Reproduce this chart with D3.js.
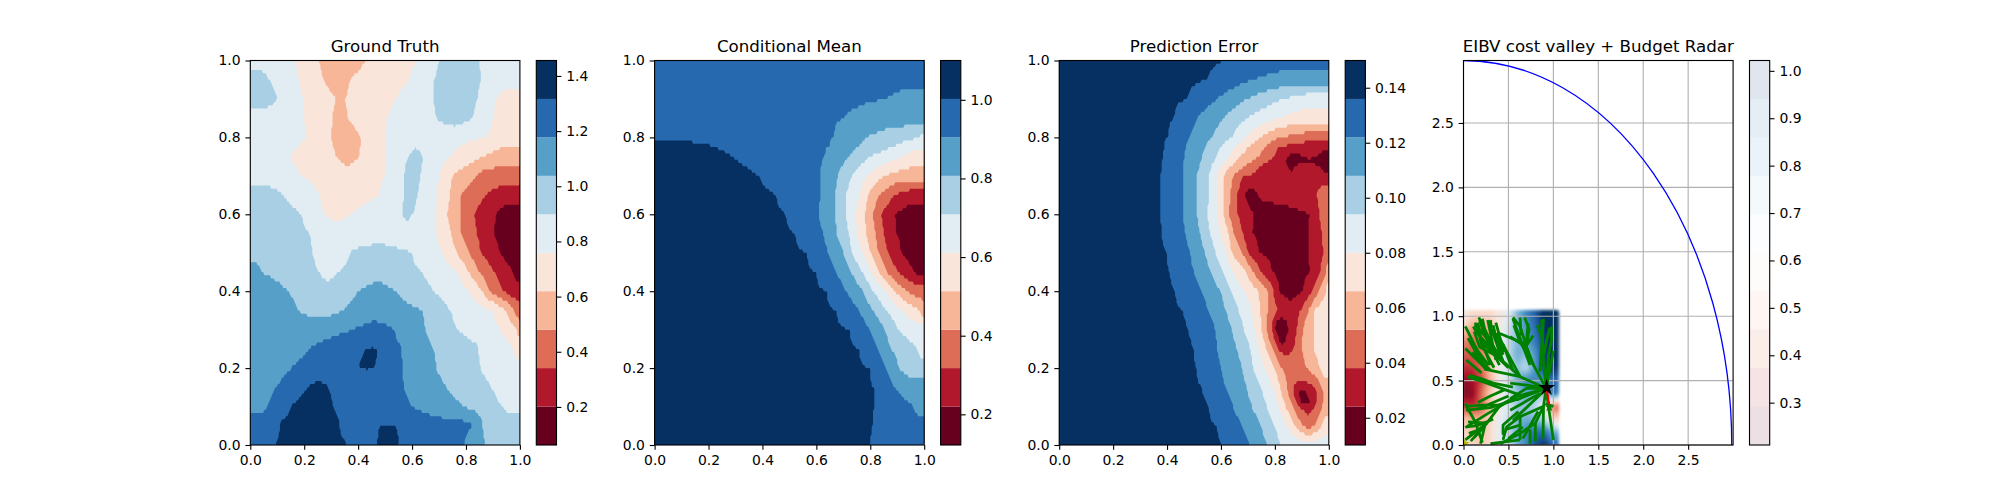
<!DOCTYPE html>
<html>
<head>
<meta charset="utf-8">
<script src="https://cdn.jsdelivr.net/npm/d3@7"></script>
<style>
  html, body { margin: 0; background: #fff; }
  svg text { font-family: "DejaVu Sans", sans-serif; fill: #000; }
</style>
</head>
<body>
<svg id="chart" width="2000" height="500"></svg>
<script>
const titles = ['Ground Truth', 'Conditional Mean', 'Prediction Error', 'EIBV cost valley + Budget Radar'];
const palette = ['#67001f', '#b2182b', '#dd6d56', '#f7b698', '#f9e5da', '#e1edf3', '#a8cfe4', '#569fc9', '#2769af', '#053061'];

// colourbar ranges, ten equal bands between them
const truthRange = [0.062, 1.456];
const meanRange = [0.122, 1.1];
const errorRange = [0.0101, 0.1499];
const costRange = [0.2107, 1.0218];

const truthTicks = [0.2, 0.4, 0.6, 0.8, 1.0, 1.2, 1.4];
const meanTicks = [0.2, 0.4, 0.6, 0.8, 1.0];
const errorTicks = [0.02, 0.04, 0.06, 0.08, 0.10, 0.12, 0.14];
const costTicks = [0.3, 0.4, 0.5, 0.6, 0.7, 0.8, 0.9, 1.0];
const unitTicks = [0, 0.2, 0.4, 0.6, 0.8, 1.0];
const radarTicks = [0, 0.5, 1.0, 1.5, 2.0, 2.5];

// each row: y, then band, x where it ends, next band, ...
const truthRows = [
  [1.00, 5,.17,4,.25,3,.43,4,.62,5,.70,6,.85,5],
  [0.95, 6,.07,5,.18,4,.27,3,.37,4,.59,5,.68,6,.855,5],
  [0.90, 6,.10,5,.195,4,.32,3,.35,4,.54,5,.68,6,.845,5,.91,4],
  [0.85, 5,.20,4,.305,3,.36,4,.505,5,.69,6,.825,5,.90,4],
  [0.80, 5,.21,4,.30,3,.41,4,.50,5,.875,4],
  [0.75, 5,.145,4,.32,3,.405,4,.50,5,.585,6,.64,5,.74,4,.865,3],
  [0.70, 5,.19,4,.50,5,.57,6,.63,5,.70,4,.75,3,.84,2,.90,2],
  [0.65, 6,.12,5,.255,4,.48,5,.57,6,.62,5,.695,4,.74,3,.78,2,.875,1],
  [0.60, 6,.19,5,.27,4,.37,5,.565,6,.60,5,.69,4,.73,3,.78,2,.83,1,.91,0],
  [0.55, 6,.22,5,.69,4,.745,3,.78,2,.84,1,.905,0],
  [0.50, 6,.23,5,.37,6,.60,5,.715,4,.765,3,.81,2,.855,1,.925,0],
  [0.45, 7,.04,6,.255,5,.325,6,.635,5,.77,4,.81,3,.85,2,.905,1,.975,0],
  [0.40, 7,.14,6,.40,7,.54,6,.68,5,.815,4,.86,3,.887,2,.937,1],
  [0.35, 7,.177,6,.345,7,.64,6,.74,5,.90,4,.95,3,.98,2],
  [0.30, 7,.38,8,.535,7,.65,6,.765,5,.93,4,.99,3],
  [0.26, 7,.235,8,.56,7,.67,6,.845,5,.97,4],
  [0.25, 7,.22,8,.435,9,.47,8,.56,7,.68,6,.845,5,.975,4],
  [0.20, 7,.15,8,.405,9,.46,8,.565,7,.69,6,.855,5],
  [0.19, 7,.14,8,.565,7,.695,6,.86,5],
  [0.15, 7,.095,8,.215,9,.29,8,.57,7,.727,6,.895,5],
  [0.10, 7,.065,8,.15,9,.305,8,.60,7,.79,6,.935,5],
  [0.06, 8,.11,9,.33,8,.82,7,.86,6],
  [0.045, 8,.11,9,.33,8,.48,9,.54,8,.82,7,.86,6],
  [0.00, 8,.09,9,.36,8,.47,9,.55,8,.795,7,.87,6]
];

const meanRows = [
  [1.00, 8],
  [0.95, 8],
  [0.90, 8,.86,7],
  [0.85, 8,.70,7],
  [0.80, 8,.665,7,.785,6,.985,5],
  [0.78, 9,.20,8,.65,7,.76,6,.90,5],
  [0.75, 9,.29,8,.63,7,.72,6,.80,5,.92,4],
  [0.70, 9,.385,8,.615,7,.68,6,.73,5,.79,4,.85,3],
  [0.65, 9,.45,8,.615,7,.67,6,.71,5,.76,4,.79,3,.835,2,.89,1],
  [0.60, 9,.485,8,.61,7,.67,6,.71,5,.745,4,.78,3,.81,2,.84,1,.89,0],
  [0.55, 9,.52,8,.625,7,.675,6,.72,5,.75,4,.785,3,.82,2,.85,1,.897,0],
  [0.50, 9,.565,8,.645,7,.70,6,.73,5,.77,4,.80,3,.83,2,.865,1,.915,0],
  [0.45, 9,.60,8,.675,7,.73,6,.77,5,.805,4,.83,3,.86,2,.90,1,.965,0],
  [0.40, 9,.64,8,.71,7,.775,6,.81,5,.86,4,.89,3,.935,2],
  [0.35, 9,.675,8,.76,7,.81,6,.86,5,.92,4,.985,3],
  [0.30, 9,.725,8,.80,7,.855,6,.905,5],
  [0.25, 9,.76,8,.83,7,.875,6,.975,5],
  [0.20, 9,.80,8,.86,7,.905,6],
  [0.15, 9,.815,8,.89,7],
  [0.10, 9,.815,8,.96,7],
  [0.05, 9,.81,8],
  [0.00, 9,.80,8]
];

const errorRows = [
  [1.00, 9,.615,8],
  [0.95, 9,.55,8,.715,7],
  [0.90, 9,.475,8,.585,7,.695,6,.83,5],
  [0.85, 9,.425,8,.51,7,.61,6,.695,5,.81,4],
  [0.80, 9,.405,8,.485,7,.565,6,.64,5,.695,4,.745,3,.82,2],
  [0.775, 9,.39,8,.47,7,.54,6,.60,5,.655,4,.70,3,.765,2,.81,1],
  [0.75, 9,.385,8,.465,7,.53,6,.58,5,.63,4,.67,3,.74,2,.80,1,.845,0,.90,1,.955,0],
  [0.74, 9,.383,8,.463,7,.525,6,.575,5,.62,4,.66,3,.72,2,.78,1,.835,0],
  [0.725, 9,.38,8,.46,7,.52,6,.565,5,.60,4,.635,3,.69,2,.74,1,.85,0,.875,1,.965,0],
  [0.70, 9,.377,8,.46,7,.51,6,.555,5,.585,4,.61,3,.645,2,.685,1],
  [0.65, 9,.377,8,.46,7,.51,6,.555,5,.585,4,.61,3,.635,2,.66,1,.685,0,.74,1,.955,2],
  [0.60, 9,.377,8,.46,7,.51,6,.55,5,.585,4,.61,3,.63,2,.66,1,.72,0,.93,1,.965,2],
  [0.55, 9,.38,8,.467,7,.523,6,.56,5,.597,4,.63,3,.647,2,.68,1,.715,0,.925,1,.975,2],
  [0.50, 9,.40,8,.485,7,.54,6,.58,5,.62,4,.64,3,.68,2,.70,1,.74,0,.925,1,.98,2],
  [0.45, 9,.41,8,.50,7,.565,6,.605,5,.645,4,.695,3,.72,2,.75,1,.79,0,.93,1,.97,2,.99,3],
  [0.40, 9,.43,8,.53,7,.60,6,.635,5,.685,4,.74,3,.775,2,.795,1,.815,0,.905,1,.94,2,.965,3,.99,4],
  [0.35, 9,.46,8,.555,7,.62,6,.665,5,.715,4,.745,3,.775,2,.81,1,.895,2,.925,3,.945,4],
  [0.32, 9,.47,8,.57,7,.63,6,.68,5,.72,4,.75,3,.77,2,.79,1,.805,0,.845,1,.885,2,.91,3,.945,4],
  [0.30, 9,.48,8,.58,7,.64,6,.685,5,.725,4,.75,3,.77,2,.79,1,.80,0,.85,1,.88,2,.905,3,.945,4],
  [0.27, 9,.49,8,.583,7,.65,6,.70,5,.735,4,.76,3,.78,2,.80,1,.815,0,.84,1,.875,2,.90,3,.945,4],
  [0.25, 9,.50,8,.585,7,.66,6,.71,5,.74,4,.77,3,.795,2,.81,1,.87,2,.90,3,.945,4],
  [0.20, 9,.51,8,.60,7,.68,6,.72,5,.765,4,.80,3,.825,2,.92,3,.965,4],
  [0.15, 9,.53,8,.615,7,.695,6,.75,5,.795,4,.82,3,.845,2,.865,1,.95,2,.975,3],
  [0.135, 9,.535,8,.625,7,.70,6,.755,5,.80,4,.825,3,.85,2,.87,1,.885,0,.92,1,.955,2,.98,3],
  [0.11, 9,.55,8,.64,7,.71,6,.765,5,.81,4,.835,3,.86,2,.88,1,.895,0,.93,1,.955,2,.98,3],
  [0.10, 9,.555,8,.645,7,.715,6,.77,5,.815,4,.84,3,.865,2,.89,1,.95,2,.975,3],
  [0.05, 9,.585,8,.68,7,.75,6,.80,5,.845,4,.875,3,.905,2,.945,3,.975,4],
  [0.00, 9,.61,8,.71,7,.77,6,.82,5]
];

// cost valley under the tree, sampled every 0.1
const costX = [0, 0.1, 0.2, 0.3, 0.4, 0.5, 0.6, 0.7, 0.8, 0.9, 1.0];
const costY = [1.0, 0.9, 0.8, 0.7, 0.6, 0.5, 0.4, 0.3, 0.2, 0.1, 0];
const costValues = [
  [.60,.56,.56,.56,.60,.66,.78,.86,.92,1.0,1.02],
  [.55,.46,.46,.50,.60,.70,.78,.84,.90,.98,1.02],
  [.45,.42,.43,.50,.60,.72,.78,.82,.88,.96,1.02],
  [.40,.40,.43,.52,.62,.72,.80,.76,.84,.96,1.0],
  [.36,.36,.42,.52,.62,.70,.76,.72,.84,.96,.98],
  [.30,.32,.38,.50,.60,.70,.80,.86,.86,.84,.90],
  [.28,.30,.42,.54,.62,.70,.76,.82,.78,.76,.88],
  [.38,.36,.40,.52,.62,.68,.76,.76,.72,.62,.42],
  [.52,.50,.50,.56,.64,.70,.78,.80,.78,.72,.56],
  [.56,.52,.52,.56,.66,.72,.80,.86,.90,.90,.80],
  [.60,.56,.54,.56,.64,.70,.80,.86,.94,.98,.90]
];

const radarRadius = 2.985;
const agentPoint = [0.925, 0.445];
const plannedPath = [[0.925, 0.44], [0.935, 0.39], [0.955, 0.30]];
const nextPoint = [0.955, 0.295];
const startPoint = [0.015, 0.01];

const treeBranches = [
  // up from the agent
  [[.92,.44],[.78,.62],[.70,.765],[.63,.92],[.55,.99]],
  [[.74,.62],[.55,.98]],
  [[.78,.62],[.63,.80],[.56,.93]],
  [[.70,.765],[.73,.90],[.68,.99]],
  [[.64,.85],[.63,.99]],
  [[.70,.77],[.775,.85]],
  [[.72,.945],[.70,.80]],
  [[.92,.44],[.89,.64],[.88,.82],[.87,.97]],
  [[.85,.57],[.89,.98]],
  [[.88,.82],[.82,.93]],
  [[.92,.44],[.945,.69],[.98,.82],[.98,.92]],
  [[.89,.70],[.96,.91]],
  [[.92,.44],[1.0,.73]],
  [[.52,.84],[.70,.76],[.76,.65]],
  // up and left
  [[.92,.44],[.63,.53],[.44,.65],[.33,.77],[.22,.92],[.17,.99]],
  [[.44,.65],[.31,.90],[.30,.97]],
  [[.33,.77],[.13,.935]],
  [[.44,.65],[.15,.87],[.11,.92]],
  [[.63,.53],[.26,.585],[.185,.69],[.02,.92]],
  [[.26,.585],[.02,.75]],
  [[.39,.87],[.70,.78]],
  [[.63,.53],[.37,.87]],
  [[.50,.60],[.20,.80],[.16,.95]],
  [[.40,.68],[.25,.85],[.21,.98]],
  [[.34,.70],[.18,.76],[.12,.88]],
  [[.40,.62],[.22,.88],[.18,.97]],
  [[.36,.66],[.27,.97]],
  [[.42,.66],[.33,.93]],
  [[.30,.62],[.13,.95]],
  [[.28,.62],[.08,.80]],
  [[.34,.60],[.20,.78],[.15,.93]],
  [[.25,.58],[.05,.83]],
  [[.30,.58],[.10,.72]],
  [[.20,.56],[.03,.66]],
  [[.37,.85],[.44,.70]],
  [[.55,.58],[.44,.78]],
  [[.45,.72],[.36,.95]],
  // left
  [[.92,.44],[.59,.377],[.41,.31],[.22,.31],[.02,.30]],
  [[.41,.31],[.26,.17],[.02,.04]],
  [[.26,.17],[.05,.18]],
  [[.22,.13],[.06,.09]],
  [[.59,.377],[.26,.24],[.02,.135]],
  [[.92,.44],[.67,.377],[.46,.43],[.22,.49],[.04,.53]],
  [[.46,.43],[.30,.38],[.16,.33]],
  [[.62,.36],[.30,.29],[.03,.27]],
  [[.50,.38],[.33,.33],[.16,.28]],
  [[.55,.45],[.33,.48],[.18,.52],[.06,.54]],
  [[.33,.20],[.15,.15],[.04,.14]],
  [[.26,.17],[.12,.06]],
  [[.20,.12],[.08,.03]],
  [[.13,.18],[.21,.02]],
  [[.24,.16],[.19,.01]],
  [[.02,.32],[.13,.18]],
  [[.87,.45],[.52,.48]],
  [[.87,.43],[.59,.35]],
  [[.85,.40],[.52,.27]],
  [[.88,.41],[.55,.19]],
  // down
  [[.92,.44],[.89,.30],[.80,.17],[.63,.09],[.41,.01]],
  [[.89,.30],[.63,.22],[.48,.14],[.44,.04]],
  [[.61,.26],[.44,.155],[.44,.08]],
  [[.63,.155],[.46,.12]],
  [[.63,.22],[.63,.04]],
  [[.63,.04],[.30,.01]],
  [[.80,.17],[.80,.03]],
  [[.83,.26],[.66,.05]],
  [[.74,.12],[.74,.01]],
  [[.89,.30],[.885,.05]],
  [[.92,.42],[1.0,.04]],
  [[.91,.32],[1.0,.30]],
  [[.66,.14],[.50,.05]],
  [[.92,.44],[.70,.44],[.52,.36]]
];

const panelLeft = [250.3, 654.6, 1059.2, 1463.5];
const panelW = 269.6, barLeft = 286, barW = 20.2;
const axTop = 60.5, axBottom = 445;
const tick = 4.86, lw = 1.11;

const svg = d3.select('#chart');

// turn a picture row into anchors: band middles and band edges
function rowScale(row) {
  const seq = row.slice(1);
  const bands = seq.filter((d, i) => i % 2 === 0);
  const edges = [0, ...seq.filter((d, i) => i % 2 === 1), 1];
  const xs = [], vs = [];
  bands.forEach((b, k) => {
    const lo = edges[k], hi = edges[k + 1];
    xs.push(lo);
    vs.push(k === 0 ? b + 0.5 : (b + bands[k - 1] + 1) / 2);
    xs.push((lo + hi) / 2);
    vs.push(b + 0.5);
  });
  xs.push(1);
  vs.push(bands[bands.length - 1] + 0.5);
  return d3.scaleLinear().domain(xs).range(vs);
}

function bandField(rows, nx, ny) {
  const scales = rows.map(rowScale);
  const ys = rows.map(r => r[0]);
  const v = new Array(nx * ny);
  for (let j = 0; j < ny; j++) {
    const y = 1 - (j + 0.5) / ny;
    let k = 0;
    while (k < rows.length - 2 && ys[k + 1] > y) k++;
    const t = (ys[k] - y) / (ys[k] - ys[k + 1]);
    for (let i = 0; i < nx; i++) {
      const x = (i + 0.5) / nx;
      v[j * nx + i] = scales[k](x) * (1 - t) + scales[k + 1](x) * t;
    }
  }
  return v;
}

function styleAxis(g) {
  g.selectAll('path.domain').remove();
  g.selectAll('line').attr('stroke', '#000').attr('stroke-width', lw);
  g.selectAll('text').attr('font-size', 13.9);
}

function frame(g, x0, x1, y0, y1) {
  g.append('rect').attr('x', x0).attr('y', y0).attr('width', x1 - x0).attr('height', y1 - y0)
    .attr('fill', 'none').attr('stroke', '#000').attr('stroke-width', lw);
}

function colorbar(i, range, ticks, fmt, opacity) {
  const x0 = panelLeft[i] + barLeft;
  const g = svg.append('g');
  const scale = d3.scaleLinear().domain(range).range([axBottom, axTop]);
  const edges = d3.range(11).map(k => range[0] + (range[1] - range[0]) * k / 10);
  g.selectAll('rect.band').data(palette).enter().append('rect')
    .attr('class', 'band')
    .attr('x', x0).attr('width', barW)
    .attr('y', (d, k) => scale(edges[k + 1]))
    .attr('height', (d, k) => scale(edges[k]) - scale(edges[k + 1]))
    .attr('fill', d => d).attr('fill-opacity', opacity);
  g.append('g').attr('transform', `translate(${x0 + barW},0)`)
    .call(d3.axisRight(scale).tickValues(ticks).tickFormat(d3.format(fmt)).tickSize(tick).tickPadding(4.86))
    .call(styleAxis);
  frame(g, x0, x0 + barW, axTop, axBottom);
}

function drawTitle(i) {
  svg.append('text').attr('x', panelLeft[i] + panelW / 2).attr('y', axTop - 8.8)
    .attr('text-anchor', 'middle').attr('font-size', 16.67).text(titles[i]);
}

function drawAxes(i, xs, ys, xTicks, yTicks, fmt) {
  const g = svg.append('g');
  g.append('g').attr('transform', `translate(0,${axBottom})`)
    .call(d3.axisBottom(xs).tickValues(xTicks).tickFormat(d3.format(fmt)).tickSize(tick).tickPadding(4.86))
    .call(styleAxis);
  g.append('g').attr('transform', `translate(${panelLeft[i]},0)`)
    .call(d3.axisLeft(ys).tickValues(yTicks).tickFormat(d3.format(fmt)).tickSize(tick).tickPadding(4.86))
    .call(styleAxis);
  frame(g, panelLeft[i], panelLeft[i] + panelW, axTop, axBottom);
}

function contourPanel(i, rows, range, ticks, fmt) {
  const nx = 200, ny = 120;
  const xs = d3.scaleLinear().domain([0, 1]).range([panelLeft[i], panelLeft[i] + panelW]);
  const ys = d3.scaleLinear().domain([0, 1]).range([axBottom, axTop]);
  const toValue = d3.scaleLinear().domain([0, 10]).range(range);
  const values = bandField(rows, nx, ny).map(toValue);
  const levels = d3.range(10).map(toValue);
  levels[0] = range[0] - 1; // lowest band fills the whole box
  const contours = d3.contours().size([nx, ny]).smooth(false).thresholds(levels)(values);
  const path = d3.geoPath(d3.geoTransform({
    point(x, y) { this.stream.point(xs(x / nx), ys(1 - y / ny)); }
  }));
  svg.append('g').selectAll('path').data(contours).enter().append('path')
    .attr('d', path).attr('fill', (d, k) => palette[k]);
  drawAxes(i, xs, ys, unitTicks, unitTicks, '.1f');
  drawTitle(i);
  colorbar(i, range, ticks, fmt, 1);
}

contourPanel(0, truthRows, truthRange, truthTicks, '.1f');
contourPanel(1, meanRows, meanRange, meanTicks, '.1f');
contourPanel(2, errorRows, errorRange, errorTicks, '.2f');

// last panel
function radarPanel(i) {
  const xs = d3.scaleLinear().domain([0, 3]).range([panelLeft[i], panelLeft[i] + panelW]);
  const ys = d3.scaleLinear().domain([0, 2.985]).range([axBottom, axTop]);
  const g = svg.append('g');
  g.append('clipPath').attr('id', 'radar-clip').append('rect')
    .attr('x', panelLeft[i]).attr('y', axTop).attr('width', panelW).attr('height', axBottom - axTop);
  g.append('filter').attr('id', 'cost-blur').attr('x', '-10%').attr('y', '-10%').attr('width', '120%').attr('height', '120%')
    .append('feGaussianBlur').attr('stdDeviation', 1.5);

  const nx = 48, ny = 48;
  const rowScales = costValues.map(r => d3.scaleLinear().domain(costX).range(r).clamp(true));
  const values = [];
  for (let j = 0; j < ny; j++) {
    const y = 1.036 * (1 - j / (ny - 1));
    const k = Math.min(d3.bisectLeft(costY.map(d => -d), -y), costY.length - 1);
    const a = Math.max(k - 1, 0);
    const t = a === k ? 0 : (costY[a] - y) / (costY[a] - costY[k]);
    for (let n = 0; n < nx; n++) {
      const x = 1.044 * n / (nx - 1);
      values.push(rowScales[a](x) * (1 - t) + rowScales[k](x) * t);
    }
  }
  const step = (costRange[1] - costRange[0]) / 10;
  const color = d3.scaleLinear().domain(palette.map((d, k) => costRange[0] + step * (k + 0.5))).range(palette).clamp(true);
  const thresholds = d3.range(0.2, 1.03, 0.01);
  const contours = d3.contours().size([nx, ny]).thresholds(thresholds)(values);
  const path = d3.geoPath(d3.geoTransform({
    point(x, y) {
      this.stream.point(xs(1.044 * (x - 0.5) / (nx - 1)), ys(1.036 * (1 - (y - 0.5) / (ny - 1))));
    }
  }));
  const cost = g.append('g').attr('clip-path', 'url(#radar-clip)').append('g').attr('filter', 'url(#cost-blur)');
  cost.selectAll('path').data(contours).enter().append('path')
    .attr('d', path).attr('fill', d => color(d.value));

  // grid
  g.selectAll('line.vg').data(radarTicks).enter().append('line').attr('class', 'vg')
    .attr('x1', d => xs(d)).attr('x2', d => xs(d)).attr('y1', axTop).attr('y2', axBottom)
    .attr('stroke', '#b0b0b0').attr('stroke-width', lw);
  g.selectAll('line.hg').data(radarTicks).enter().append('line').attr('class', 'hg')
    .attr('y1', d => ys(d)).attr('y2', d => ys(d)).attr('x1', panelLeft[i]).attr('x2', panelLeft[i] + panelW)
    .attr('stroke', '#b0b0b0').attr('stroke-width', lw);

  const marks = g.append('g').attr('clip-path', 'url(#radar-clip)');
  marks.append('ellipse').attr('cx', xs(0)).attr('cy', ys(0))
    .attr('rx', xs(radarRadius) - xs(0)).attr('ry', ys(0) - ys(radarRadius))
    .attr('fill', 'none').attr('stroke', '#0000ff').attr('stroke-width', 1.3);

  const line = d3.line().x(d => xs(d[0])).y(d => ys(d[1]));
  marks.selectAll('path.tree').data(treeBranches).enter().append('path').attr('class', 'tree')
    .attr('d', line).attr('fill', 'none').attr('stroke', '#008000').attr('stroke-width', 2.8)
    .attr('stroke-linejoin', 'round');
  marks.append('path').datum(plannedPath).attr('d', line).attr('fill', 'none')
    .attr('stroke', '#ff0000').attr('stroke-width', 2.2);
  marks.append('path').attr('d', d3.symbol(d3.symbolStar, 30)())
    .attr('transform', `translate(${xs(nextPoint[0])},${ys(nextPoint[1])})`).attr('fill', '#008000');
  marks.append('path').attr('d', d3.symbol(d3.symbolStar, 30)())
    .attr('transform', `translate(${xs(startPoint[0])},${ys(startPoint[1])})`).attr('fill', '#b8b800');
  marks.append('path').attr('d', d3.symbol(d3.symbolStar, 90)())
    .attr('transform', `translate(${xs(agentPoint[0])},${ys(agentPoint[1])})`).attr('fill', '#000');

  drawAxes(i, xs, ys, radarTicks, radarTicks, '.1f');
  drawTitle(i);
  colorbar(i, costRange, costTicks, '.1f', 0.12);
}
radarPanel(3);
</script>
</body>
</html>
